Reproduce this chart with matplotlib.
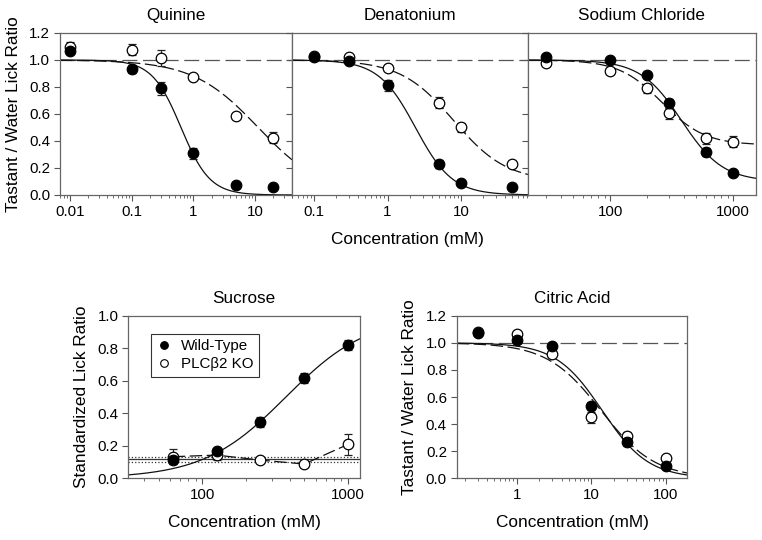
import numpy as np
import matplotlib
matplotlib.use('Agg')
import matplotlib.pyplot as plt
from matplotlib.ticker import LogLocator, NullFormatter

plt.rcParams['font.family'] = ['Liberation Sans', 'DejaVu Sans']
plt.rcParams['axes.linewidth'] = 0.9

# ---------------- data ----------------
quin_conc = [0.01, 0.1, 0.3, 1, 5, 20]
quin_wt = [1.067, 0.936, 0.789, 0.308, 0.074, 0.057]
quin_wt_err = [0.02, 0.03, 0.05, 0.04, 0.02, 0.01]
quin_ko = [1.096, 1.077, 1.015, 0.875, 0.586, 0.424]
quin_ko_err = [0.04, 0.04, 0.06, 0.02, 0.02, 0.04]

den_conc = [0.1, 0.3, 1, 5, 10, 50]
den_wt = [1.02, 0.99, 0.813, 0.227, 0.091, 0.061]
den_wt_err = [0.01, 0.01, 0.04, 0.03, 0.02, 0.01]
den_ko = [1.03, 1.02, 0.94, 0.685, 0.50, 0.229]
den_ko_err = [0.01, 0.01, 0.02, 0.04, 0.03, 0.02]

nacl_conc = [30, 100, 200, 300, 600, 1000]
nacl_wt = [1.022, 0.998, 0.892, 0.678, 0.318, 0.16]
nacl_wt_err = [0.01, 0.01, 0.02, 0.03, 0.03, 0.01]
nacl_ko = [0.98, 0.919, 0.789, 0.604, 0.419, 0.394]
nacl_ko_err = [0.02, 0.02, 0.03, 0.04, 0.04, 0.04]

suc_conc = [62.5, 125, 250, 500, 1000]
suc_wt = [0.115, 0.168, 0.348, 0.615, 0.82]
suc_wt_err = [0.02, 0.02, 0.03, 0.03, 0.03]
suc_ko = [0.133, 0.143, 0.112, 0.088, 0.209]
suc_ko_err = [0.045, 0.03, 0.02, 0.02, 0.065]
suc_water_mean = 0.117
suc_water_band = [0.100, 0.133]

cit_conc = [0.3, 1, 3, 10, 30, 100]
cit_wt = [1.07, 1.02, 0.98, 0.536, 0.27, 0.09]
cit_wt_err = [0.01, 0.02, 0.02, 0.03, 0.03, 0.02]
cit_ko = [1.08, 1.063, 0.915, 0.45, 0.31, 0.152]
cit_ko_err = [0.02, 0.02, 0.02, 0.04, 0.03, 0.01]

# logistic fit parameters [EC50, Hill slope, bottom] for WT and KO
quin_fit_wt = [0.634, 1.855, 0.0]
quin_fit_ko = [11.3, 0.824, 0.0]
den_fit_wt = [2.40, 1.727, 0.0]
den_fit_ko = [8.0, 1.2, 0.10]
nacl_fit_wt = [381, 2.6, 0.10]
nacl_fit_ko = [264, 2.5, 0.37]
cit_fit_wt = [14.0, 1.4, 0.0]
cit_fit_ko = [13.5, 1.2, 0.0]
suc_fit_wt = [374, 1.54, 1.0]  # EC50, slope, top

legend_labels = ['Wild-Type', 'PLC\u03b22 KO']

# ---------------- helpers ----------------
def dec_curve(x, p):
    c, h, b = p
    return b + (1 - b) / (1 + (x / c) ** h)

MS = 7.6
DASH = (10, 3.6)
LINEC = '#111111'

def plot_points(ax, x, y, e, filled):
    ax.errorbar(x, y, yerr=e, fmt='o', ms=MS,
                mfc='black' if filled else 'white', mec='black', mew=0.9,
                ecolor='#222222', elinewidth=0.8, capsize=3, capthick=0.8,
                zorder=5 if filled else 4, clip_on=False)

def style_axis(ax, xlim, ylim, yticks, xticks, xticklabels, ylabels=True):
    ax.set_xscale('log')
    ax.set_xlim(*xlim)
    ax.set_ylim(*ylim)
    ax.set_yticks(yticks)
    if ylabels:
        ax.set_yticklabels(['%.1f' % v for v in yticks])
    else:
        ax.set_yticklabels([])
    ax.set_xticks(xticks)
    ax.set_xticklabels(xticklabels)
    ax.xaxis.set_minor_locator(LogLocator(base=10, subs=np.arange(2, 10)))
    ax.xaxis.set_minor_formatter(NullFormatter())
    ax.tick_params(axis='both', which='major', direction='out', length=4,
                   width=0.8, labelsize=10.9, pad=3, color='#555555')
    ax.tick_params(axis='x', which='minor', direction='out', length=2.5, width=0.6,
                   color='#555555')
    for s in ax.spines.values():
        s.set_color('#666666')

def ref_line(ax):
    ax.axhline(1.0, color='#555555', lw=0.9, dashes=(12, 4.5), zorder=1)

fig = plt.figure(figsize=(7.62, 5.4), dpi=100)

# ---------------- top row ----------------
top_b, top_h = 0.6389, 0.300
panels = [
    ('Quinine', [0.0787, 0.3045], quin_conc, quin_wt, quin_wt_err, quin_ko, quin_ko_err,
     quin_fit_wt, quin_fit_ko, (0.0069, 40), [0.01, 0.1, 1, 10], ['0.01', '0.1', '1', '10'], True),
    ('Denatonium', [0.3832, 0.3097], den_conc, den_wt, den_wt_err, den_ko, den_ko_err,
     den_fit_wt, den_fit_ko, (0.05, 82), [0.1, 1, 10], ['0.1', '1', '10'], False),
    ('Sodium Chloride', [0.6929, 0.2992], nacl_conc, nacl_wt, nacl_wt_err, nacl_ko, nacl_ko_err,
     nacl_fit_wt, nacl_fit_ko, (21.5, 1530), [100, 1000], ['100', '1000'], False),
]
for (title, (l, w), xc, ywt, ewt, yko, eko, fwt, fko, xlim, xt, xtl, ylab) in panels:
    ax = fig.add_axes([l, top_b, w, top_h])
    style_axis(ax, xlim, (0, 1.2), [0, 0.2, 0.4, 0.6, 0.8, 1.0, 1.2], xt, xtl, ylab)
    ref_line(ax)
    xs = np.logspace(np.log10(xlim[0]), np.log10(xlim[1]), 300)
    ax.plot(xs, dec_curve(xs, fwt), color=LINEC, lw=0.9, zorder=2)
    ax.plot(xs, dec_curve(xs, fko), color=LINEC, lw=0.9, dashes=DASH, zorder=2)
    plot_points(ax, xc, yko, eko, False)
    plot_points(ax, xc, ywt, ewt, True)
    ax.set_title(title, fontsize=12.3, pad=9)
    if ylab:
        ax.set_ylabel('Tastant / Water Lick Ratio', fontsize=12.4, labelpad=6)

fig.text(0.535, 0.556, 'Concentration (mM)', ha='center', va='center', fontsize=12.4)

# ---------------- sucrose ----------------
ax = fig.add_axes([0.1684, 0.1142, 0.304, 0.3011])
style_axis(ax, (31, 1207), (0, 1.0), [0, 0.2, 0.4, 0.6, 0.8, 1.0], [100, 1000], ['100', '1000'])
ax.axhline(suc_water_mean, color='#333333', lw=0.9, zorder=1)
for v in suc_water_band:
    ax.axhline(v, color='#333333', lw=0.9, ls=':', zorder=1)
xs = np.logspace(np.log10(31), np.log10(1207), 300)
c, h, top = suc_fit_wt
ax.plot(xs, top / (1 + (c / xs) ** h), color=LINEC, lw=0.9, zorder=2)
ax.plot(suc_conc, suc_ko, color=LINEC, lw=0.9, dashes=DASH, zorder=2)
plot_points(ax, suc_conc, suc_ko, suc_ko_err, False)
plot_points(ax, suc_conc, suc_wt, suc_wt_err, True)
ax.set_title('Sucrose', fontsize=12.3, pad=9)
ax.set_ylabel('Standardized Lick Ratio', fontsize=12.4, labelpad=6)
ax.set_xlabel('Concentration (mM)', fontsize=12.4, labelpad=9)
h1, = ax.plot([], [], 'o', ms=5.5, mfc='black', mec='black', mew=0.8)
h2, = ax.plot([], [], 'o', ms=5.5, mfc='white', mec='black', mew=0.8)
leg = ax.legend([h1, h2], legend_labels, loc='upper left', bbox_to_anchor=(0.1, 0.89),
                fontsize=10.9, frameon=True, fancybox=False, edgecolor='black',
                handlelength=1.0, handletextpad=0.6, borderpad=0.35, labelspacing=0.3,
                borderaxespad=0)
leg.get_frame().set_linewidth(0.8)

# ---------------- citric acid ----------------
ax = fig.add_axes([0.5993, 0.1142, 0.3026, 0.3011])
style_axis(ax, (0.157, 193), (0, 1.2), [0, 0.2, 0.4, 0.6, 0.8, 1.0, 1.2], [1, 10, 100], ['1', '10', '100'])
ref_line(ax)
xs = np.logspace(np.log10(0.157), np.log10(193), 300)
ax.plot(xs, dec_curve(xs, cit_fit_wt), color=LINEC, lw=0.9, zorder=2)
ax.plot(xs, dec_curve(xs, cit_fit_ko), color=LINEC, lw=0.9, dashes=DASH, zorder=2)
plot_points(ax, cit_conc, cit_ko, cit_ko_err, False)
plot_points(ax, cit_conc, cit_wt, cit_wt_err, True)
ax.set_title('Citric Acid', fontsize=12.3, pad=9)
ax.set_ylabel('Tastant / Water Lick Ratio', fontsize=12.4, labelpad=6)
ax.set_xlabel('Concentration (mM)', fontsize=12.4, labelpad=9)

fig.savefig('out.png', dpi=100)
